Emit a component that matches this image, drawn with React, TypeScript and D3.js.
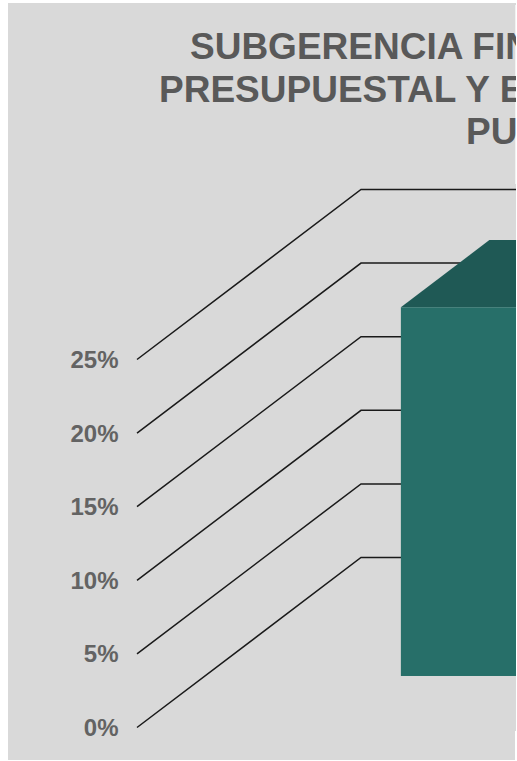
import React from 'react';
import * as d3 from 'd3';

const tickValues = [0, 5, 10, 15, 20, 25];
const categories = ['A'];
const barValues = [25.05];
const titleLines = ['SUBGERENCIA FIN', 'PRESUPUESTAL Y E', 'PU'];
const titleStarts = [190, 159, 466];

const W = 517;
const H = 761;
const right = 516;

// front edge of the floor and how far the back wall is shifted
const y = d3.scaleLinear().domain([0, 25]).range([727.5, 359.5]);
const depthX = 224;
const depthY = -170;
const x = d3.scaleBand<string>().domain(categories).range([333, 800]);

const barFront = 0.303;
const barBack = 0.698;

const App: React.FC = () => {
  const line = d3.line();
  const axisX = 137;

  return (
    <svg
      width={W}
      height={H}
      viewBox={`0 0 ${W} ${H}`}
      style={{ position: 'absolute', left: 0, top: 0, fontFamily: '"Liberation Sans", Arial, sans-serif' }}
    >
      <defs>
        <clipPath id="plot">
          <rect x={8} y={3} width={right - 8} height={757} />
        </clipPath>
      </defs>
      <rect x={8} y={3} width={right - 8} height={757} fill="#d9d9d9" />
      <rect x={515} y={5} width={1} height={179} fill="#f2f2f2" />
      <rect x={515} y={731} width={1} height={29} fill="#ffffff" />

      <g clipPath="url(#plot)">
        {titleLines.map((t, i) => (
          <text key={t} x={titleStarts[i]} y={59 + i * 42.6} fontSize={37} fontWeight={700} fill="#595959">
            {t}
          </text>
        ))}

        {tickValues.map(v => (
          <path
            key={v}
            d={line([
              [axisX, y(v)],
              [axisX + depthX, y(v) + depthY],
              [right, y(v) + depthY],
            ]) as string}
            fill="none"
            stroke="#1a1a1a"
            strokeWidth={1.5}
          />
        ))}

        {categories.map((c, i) => {
          const x0 = (x(c) as number) + depthX * barFront;
          const x1 = x0 + x.bandwidth();
          const base = y(0) + depthY * barFront;
          const top = base - (y(0) - y(barValues[i]));
          const bx = depthX * (barBack - barFront);
          const by = depthY * (barBack - barFront);
          return (
            <g key={c}>
              <path
                d={line([
                  [x0, top],
                  [x0 + bx, top + by],
                  [x1 + bx, top + by],
                  [x1, top],
                ]) as string + 'Z'}
                fill="#1f5955"
              />
              <rect x={x0} y={top} width={x1 - x0} height={base - top} fill="#276f69" />
            </g>
          );
        })}

        {tickValues.map(v => (
          <text
            key={v}
            x={118.5}
            y={y(v) + 8.5}
            textAnchor="end"
            fontSize={24}
            fontWeight={700}
            fill="#636363"
          >
            {v}%
          </text>
        ))}
      </g>
    </svg>
  );
};

export default App;
